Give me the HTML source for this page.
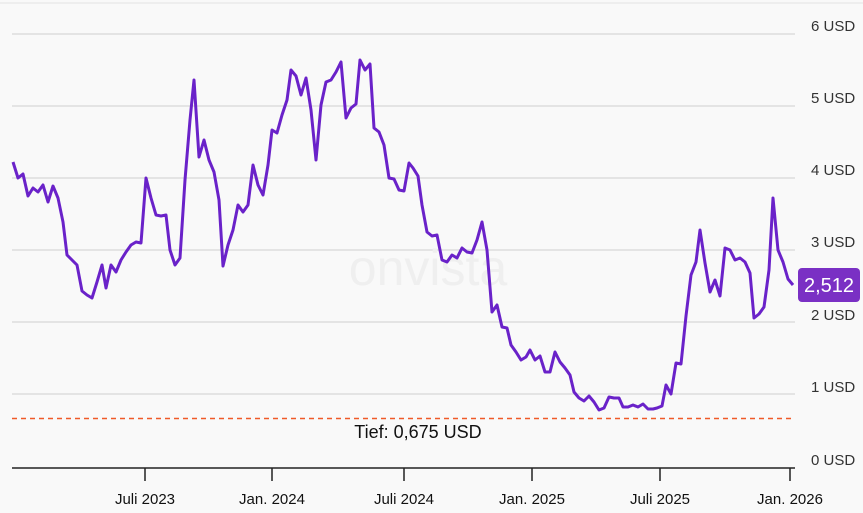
<!DOCTYPE html><html><head><style>
body{margin:0;background:#f9f9f9;}
svg{display:block;font-family:"Liberation Sans",sans-serif;}
</style></head><body>
<svg width="863" height="513" viewBox="0 0 863 513">
<rect width="863" height="513" fill="#f9f9f9"/>
<line x1="0" y1="3" x2="863" y2="3" stroke="#e4e4e4"/>
<g stroke="#dedede" stroke-width="1.5">
<line x1="12" y1="34" x2="795" y2="34"/><line x1="12" y1="106" x2="795" y2="106"/>
<line x1="12" y1="178" x2="795" y2="178"/><line x1="12" y1="250" x2="795" y2="250"/>
<line x1="12" y1="322" x2="795" y2="322"/><line x1="12" y1="394" x2="795" y2="394"/>
</g>
<text x="428" y="285" font-size="50" fill="#efefef" text-anchor="middle">onvista</text>
<g font-size="15" fill="#333">
<text x="811" y="31">6 USD</text><text x="811" y="103">5 USD</text><text x="811" y="175">4 USD</text>
<text x="811" y="247">3 USD</text><text x="811" y="320">2 USD</text><text x="811" y="392">1 USD</text>
<text x="811" y="465">0 USD</text>
</g>
<line x1="12" y1="418.5" x2="795" y2="418.5" stroke="#f05a28" stroke-width="1.5" stroke-dasharray="5,4"/>
<text x="418" y="438" font-size="18" fill="#111" text-anchor="middle">Tief: 0,675 USD</text>
<line x1="12" y1="468" x2="795" y2="468" stroke="#222" stroke-width="1.5"/>
<g stroke="#222" stroke-width="1.5">
<line x1="145" y1="468" x2="145" y2="481"/><line x1="272" y1="468" x2="272" y2="481"/>
<line x1="404" y1="468" x2="404" y2="481"/><line x1="532" y1="468" x2="532" y2="481"/>
<line x1="660" y1="468" x2="660" y2="481"/><line x1="790" y1="468" x2="790" y2="481"/>
</g>
<g font-size="15" fill="#111" text-anchor="middle">
<text x="145" y="504">Juli 2023</text><text x="272" y="504">Jan. 2024</text><text x="404" y="504">Juli 2024</text>
<text x="532" y="504">Jan. 2025</text><text x="660" y="504">Juli 2025</text><text x="790" y="504">Jan. 2026</text>
</g>
<polyline fill="none" stroke="#6a22c9" stroke-width="3" stroke-linejoin="round" points="13,162 18,178 23,174 28,196 33,188 38,192 43,185 48,202 53,186 58,198 63,222 67,255 72,260 77,265 82,291 87,295 92,298 97,282 102,265 106,288 111,265 116,272 121,260 126,252 131,245 136,242 141,243 146,178 151,198 156,215 161,216 166,215 170,250 175,265 180,258 185,180 190,120 194,80 199,157 204,140 209,160 214,172 219,200 223,266 228,245 233,230 238,205 243,212 248,205 253,165 258,185 263,195 268,165 272,130 277,133 282,115 287,100 291,70 296,76 301,95 306,78 311,110 316,160 321,105 326,82 331,80 336,72 341,62 346,118 351,108 356,104 360,60 365,70 370,64 374,128 379,132 384,145 389,178 394,179 399,190 404,191 409,163 413,168 418,176 422,205 427,232 432,236 437,235 442,260 447,262 452,255 457,258 462,248 467,252 472,253 477,240 482,222 487,250 492,312 497,305 502,327 507,328 511,345 516,352 521,360 526,357 530,350 535,360 540,356 545,372 550,372 555,352 560,362 565,368 570,375 574,392 579,398 584,401 589,396 594,402 599,410 604,408 609,397 614,398 619,398 623,407 628,407 633,405 638,407 643,404 648,409 653,409 657,408 662,406 666,385 671,394 676,363 681,364 686,316 691,275 696,262 700,230 705,263 710,292 715,280 720,296 725,248 730,250 735,260 740,258 745,262 750,273 754,318 759,314 764,307 769,270 773,198 778,250 783,262 788,279 793,285"/>
<rect x="798" y="268" width="62" height="34" rx="4" fill="#7a30c4"/>
<text x="829" y="292" font-size="20" fill="#fff" text-anchor="middle">2,512</text>
</svg>
</body></html>
